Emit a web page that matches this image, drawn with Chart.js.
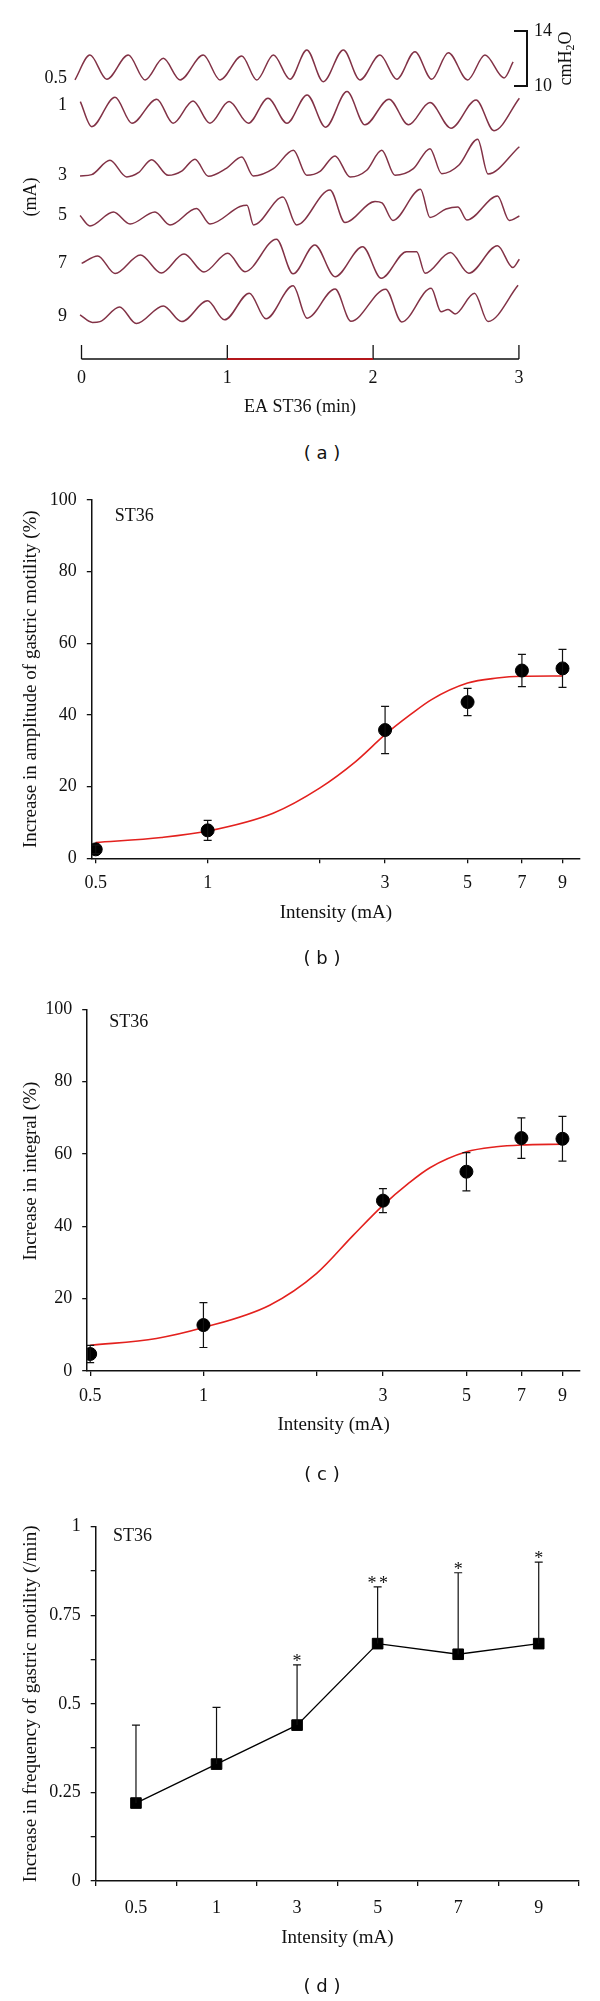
<!DOCTYPE html>
<html>
<head>
<meta charset="utf-8">
<script src="https://cdn.jsdelivr.net/npm/chart.js@4.4.1/dist/chart.umd.min.js"></script>
<style>
  html, body { margin: 0; padding: 0; background: #fff; }
  #page { position: relative; width: 600px; height: 2001px; overflow: hidden; }
  #page canvas { position: absolute; left: 0; }
  .tag { position: absolute; width: 80px; margin-left: -40px; height: 22px; line-height: 22px; margin-top: -11px;
         text-align: center; font: 18px "DejaVu Sans", sans-serif; color: #111; }
</style>
</head>
<body>
<div id="page">
  <canvas id="traces" width="600" height="440" style="top:0px"></canvas>
  <canvas id="amp" width="600" height="490" style="top:470px"></canvas>
  <canvas id="integ" width="600" height="490" style="top:980px"></canvas>
  <canvas id="freq" width="600" height="501" style="top:1500px"></canvas>
  <div class="tag" style="left:322px; top:453px">( a )</div>
  <div class="tag" style="left:322px; top:958px">( b )</div>
  <div class="tag" style="left:322px; top:1474px">( c )</div>
  <div class="tag" style="left:322px; top:1986px">( d )</div>
</div>
<script>
// ---- panel (a): pressure records, [time (min), cmH2O]
const laneNames = ['0.5', '1', '3', '5', '7', '9'];
const trace05 = [[-0.045,10.44],[0.058,12.25],[0.173,10.49],[0.321,12.25],[0.436,10.44],[0.561,12.01],[0.676,10.44],[0.835,12.25],[0.950,10.44],[1.099,12.18],[1.202,10.44],[1.316,12.25],[1.430,10.49],[1.545,12.62],[1.658,10.31],[1.796,12.62],[1.910,10.44],[2.047,12.25],[2.162,10.49],[2.287,12.49],[2.402,10.49],[2.516,12.42],[2.648,10.44],[2.767,12.25],[2.898,10.58],[2.960,11.75]];
const trace1 = [[-0.008,12.13],[0.070,10.31],[0.230,12.45],[0.346,10.56],[0.516,12.31],[0.628,10.56],[0.765,12.18],[0.881,10.56],[1.012,12.13],[1.145,10.56],[1.279,12.38],[1.409,10.56],[1.547,12.62],[1.674,10.27],[1.821,12.86],[1.944,10.44],[2.109,12.31],[2.243,10.44],[2.390,12.06],[2.534,10.20],[2.706,12.25],[2.829,10.02],[3.003,12.38]];
const trace3 = [[-0.010,10.29],[0.070,10.39],[0.195,11.43],[0.310,10.22],[0.390,10.53],[0.481,11.48],[0.595,10.34],[0.687,10.65],[0.778,11.51],[0.870,10.27],[0.996,10.87],[1.099,11.67],[1.178,10.29],[1.316,10.82],[1.453,12.16],[1.545,10.34],[1.636,10.63],[1.739,11.75],[1.842,10.22],[1.956,10.71],[2.059,12.16],[2.150,10.34],[2.276,10.82],[2.390,12.28],[2.470,10.46],[2.589,11.09],[2.717,12.96],[2.788,10.44],[3.003,12.42]];
const trace5 = [[-0.010,10.91],[0.058,10.15],[0.219,11.16],[0.333,10.29],[0.504,11.16],[0.607,10.22],[0.789,11.42],[0.881,10.29],[1.087,11.56],[1.135,11.66],[1.180,10.22],[1.382,12.25],[1.475,10.22],[1.704,12.76],[1.807,10.40],[2.013,11.93],[2.061,11.82],[2.136,10.55],[2.325,12.81],[2.390,10.76],[2.500,11.38],[2.582,11.53],[2.643,10.58],[2.853,12.33],[2.934,10.55],[3.003,10.87]];
const trace7 = [[0.001,11.21],[0.111,11.75],[0.230,10.47],[0.404,11.82],[0.547,10.51],[0.703,11.89],[0.840,10.58],[1.003,11.94],[1.121,10.60],[1.337,12.96],[1.451,10.45],[1.600,12.55],[1.739,10.24],[1.928,12.42],[2.056,10.12],[2.229,12.06],[2.299,12.06],[2.356,10.49],[2.530,11.99],[2.656,10.49],[2.853,12.49],[2.958,10.91],[3.003,11.51]];
const trace9 = [[-0.010,10.80],[0.075,10.25],[0.127,10.31],[0.261,11.38],[0.376,10.17],[0.561,11.45],[0.687,10.31],[0.864,11.82],[0.981,10.44],[1.151,12.38],[1.265,10.51],[1.451,12.91],[1.547,10.56],[1.739,12.68],[1.848,10.34],[2.086,12.67],[2.196,10.29],[2.398,12.74],[2.466,11.02],[2.514,11.20],[2.562,10.87],[2.695,12.38],[2.788,10.31],[2.994,12.95]];
const timeTicks = [0, 1, 2, 3];
const stimWindow = [1, 2];
const scaleBar = [10, 14];

// ---- panels (b) (c) (d)
const intensity = [0.5, 1, 3, 5, 7, 9];
const amplitudeMean = [2.5, 7.8, 35.8, 43.6, 52.4, 53.0];
const amplitudeSem = [1.2, 2.8, 6.6, 3.8, 4.5, 5.3];
const integralMean = [4.7, 12.7, 47.1, 55.1, 64.4, 64.2];
const integralSem = [2.4, 6.2, 3.3, 5.3, 5.6, 6.2];
const fitX = [0.5, 0.75, 1, 1.5, 2, 2.5, 3, 3.5, 4, 5, 6, 7, 9];
const amplitudeFit = [4.4, 5.8, 7.6, 12.6, 19.6, 27.0, 34.5, 40.0, 44.3, 48.9, 50.3, 50.8, 50.9];
const integralFit = [7.1, 9.0, 12.0, 18.2, 27.0, 37.5, 45.8, 51.8, 56.2, 60.6, 62.0, 62.5, 62.7];
const logTicks = [0.5, 1, 2, 3, 5, 7, 9];
const freqLabels = ['0.5', '1', '3', '5', '7', '9'];
const freqMean = [0.22, 0.33, 0.44, 0.67, 0.64, 0.67];
const freqSem = [0.22, 0.16, 0.17, 0.16, 0.23, 0.23];
const freqSig = ['', '', '*', '**', '*', '*'];

const SERIF = '"Liberation Serif", "Times New Roman", serif';
const INK = '#111';
const TRACE = '#823246';
const FIT = '#e3211e';
Chart.defaults.font.family = SERIF;
Chart.defaults.font.size = 18;
Chart.defaults.color = INK;
Chart.defaults.animation = false;

// vertical stacking of the six records (layout only)
const laneShift = [0, -3.27, -6.84, -10.33, -14.11, -17.45];
const laneLabelY = [78, 105, 175, 215, 263, 316];

const traceDecor = {
  id: 'traceDecor',
  afterDraw(chart) {
    const { ctx, scales: { x, y } } = chart;
    ctx.save();
    ctx.fillStyle = INK;
    ctx.strokeStyle = INK;
    ctx.font = '18px ' + SERIF;
    ctx.textBaseline = 'middle';

    ctx.textAlign = 'right';
    laneNames.forEach((n, i) => ctx.fillText(n, 67, laneLabelY[i]));

    ctx.save();
    ctx.translate(31, 197);
    ctx.rotate(-Math.PI / 2);
    ctx.textAlign = 'center';
    ctx.fillText('(mA)', 0, 0);
    ctx.restore();

    // calibration bar
    const bx = 527;
    const yLo = y.getPixelForValue(scaleBar[0]);
    const yHi = y.getPixelForValue(scaleBar[1]);
    ctx.lineWidth = 2;
    ctx.beginPath();
    ctx.moveTo(bx - 13, yHi); ctx.lineTo(bx, yHi); ctx.lineTo(bx, yLo); ctx.lineTo(bx - 13, yLo);
    ctx.stroke();
    ctx.textAlign = 'left';
    ctx.fillText(String(scaleBar[1]), 534, yHi);
    ctx.fillText(String(scaleBar[0]), 534, yLo);

    // cmH2O, rotated, with subscript
    ctx.save();
    ctx.translate(566, (yHi + yLo) / 2);
    ctx.rotate(-Math.PI / 2);
    const big = '18px ' + SERIF, small = '12px ' + SERIF;
    ctx.font = big; const w1 = ctx.measureText('cmH').width, w3 = ctx.measureText('O').width;
    ctx.font = small; const w2 = ctx.measureText('2').width;
    let cx = -(w1 + w2 + w3) / 2;
    ctx.font = big; ctx.fillText('cmH', cx, 0); cx += w1;
    ctx.font = small; ctx.fillText('2', cx, 5); cx += w2;
    ctx.font = big; ctx.fillText('O', cx, 0);
    ctx.restore();

    // time axis
    const base = 359, tickTop = 345;
    ctx.lineWidth = 1.3;
    ctx.beginPath();
    ctx.moveTo(x.getPixelForValue(timeTicks[0]), base);
    ctx.lineTo(x.getPixelForValue(timeTicks[timeTicks.length - 1]), base);
    timeTicks.forEach(t => {
      const px = x.getPixelForValue(t);
      ctx.moveTo(px, base); ctx.lineTo(px, tickTop);
    });
    ctx.stroke();
    ctx.strokeStyle = '#b3161b';
    ctx.lineWidth = 2;
    ctx.beginPath();
    ctx.moveTo(x.getPixelForValue(stimWindow[0]), base);
    ctx.lineTo(x.getPixelForValue(stimWindow[1]), base);
    ctx.stroke();
    ctx.font = '18px ' + SERIF;
    ctx.textAlign = 'center';
    timeTicks.forEach(t => ctx.fillText(String(t), x.getPixelForValue(t), 378));
    ctx.fillText('EA ST36 (min)', 300, 407);
    ctx.restore();
  }
};

new Chart(document.getElementById('traces'), {
  type: 'scatter',
  data: {
    datasets: [trace05, trace1, trace3, trace5, trace7, trace9].map((tr, i) => ({
      data: tr.map(([t, v]) => ({ x: t, y: v + laneShift[i] })),
      showLine: true,
      borderColor: TRACE,
      borderWidth: 1.5,
      pointRadius: 0,
      cubicInterpolationMode: 'monotone'
    }))
  },
  options: {
    responsive: false,
    devicePixelRatio: 1,
    layout: { padding: 0 },
    scales: {
      x: { type: 'linear', display: false, min: -0.559, max: 3.556 },
      y: { display: false, min: -15.75, max: 16.25 }
    },
    plugins: { legend: { display: false }, tooltip: { enabled: false } }
  },
  plugins: [traceDecor]
});

// error bars + significance marks on dataset 0
const errorBars = {
  id: 'errorBars',
  afterDatasetsDraw(chart, args, opts) {
    const ds = chart.data.datasets[0];
    const meta = chart.getDatasetMeta(0);
    const ys = chart.scales.y;
    const ctx = chart.ctx;
    ctx.save();
    ctx.strokeStyle = INK;
    ctx.fillStyle = INK;
    ctx.lineWidth = 1.2;
    meta.data.forEach((pt, i) => {
      const raw = ds.data[i];
      const v = typeof raw === 'object' ? raw.y : raw;
      const e = ds.errors[i];
      const top = ys.getPixelForValue(v + e);
      const bot = opts.upOnly ? pt.y : ys.getPixelForValue(v - e);
      ctx.beginPath();
      ctx.moveTo(pt.x, bot); ctx.lineTo(pt.x, top);
      ctx.moveTo(pt.x - 4, top); ctx.lineTo(pt.x + 4, top);
      if (!opts.upOnly) { ctx.moveTo(pt.x - 4, bot); ctx.lineTo(pt.x + 4, bot); }
      ctx.stroke();
      const mark = ds.marks ? ds.marks[i] : '';
      if (mark) {
        ctx.font = '18px ' + SERIF;
        ctx.textAlign = 'center';
        ctx.textBaseline = 'alphabetic';
        const n = mark.length;
        for (let k = 0; k < n; k++) {
          ctx.fillText('*', pt.x + (k - (n - 1) / 2) * 11.5, top + 2);
        }
      }
    });
    ctx.restore();
  }
};

const cornerNote = {
  id: 'cornerNote',
  afterDraw(chart, args, opts) {
    const { ctx, chartArea } = chart;
    ctx.save();
    ctx.fillStyle = INK;
    ctx.font = '18px ' + SERIF;
    ctx.textAlign = 'left';
    ctx.textBaseline = 'middle';
    ctx.fillText(opts.text, chartArea.left + opts.dx, chartArea.top + opts.dy);
    ctx.restore();
  }
};

function fixSize(w, h) {
  return scale => {
    if (w != null) scale.width = w;
    if (h != null) scale.height = h;
  };
}

const axisLook = {
  border: { display: true, color: INK, width: 1.5 },
  grid: { drawOnChartArea: false, drawTicks: true, tickLength: 5, color: INK, lineWidth: 1.3 }
};

function doseChart(id, mean, sem, fit, yTitle, box) {
  return new Chart(document.getElementById(id), {
    type: 'scatter',
    data: {
      datasets: [
        {
          data: intensity.map((x, i) => ({ x, y: mean[i] })),
          errors: sem,
          pointRadius: 6.5,
          pointBackgroundColor: '#000',
          pointBorderColor: '#000',
          showLine: false
        },
        {
          data: fitX.map((x, i) => ({ x, y: fit[i] })),
          showLine: true,
          borderColor: FIT,
          borderWidth: 1.6,
          pointRadius: 0,
          cubicInterpolationMode: 'monotone'
        }
      ]
    },
    options: {
      responsive: false,
      devicePixelRatio: 1,
      layout: { padding: { top: box.top, right: 20, left: 0, bottom: 0 } },
      scales: {
        x: {
          type: 'logarithmic',
          min: box.xMin, max: box.xMax,
          afterFit: fixSize(null, box.xH),
          afterBuildTicks: s => { s.ticks = logTicks.map(v => ({ value: v })); },
          ticks: { padding: 9, color: INK, autoSkip: false, maxRotation: 0, callback: v => (v === 2 ? '' : String(v)) },
          title: { display: true, text: 'Intensity (mA)', color: INK, font: { size: 19 }, padding: { top: 0, bottom: box.xTitlePad } },
          ...axisLook
        },
        y: {
          min: 0, max: 100,
          afterFit: fixSize(box.yW, null),
          ticks: { stepSize: 20, padding: 10, color: INK },
          title: { display: true, text: yTitle, color: INK, font: { size: 19 }, padding: { top: 20, bottom: 0 } },
          ...axisLook
        }
      },
      plugins: {
        legend: { display: false },
        tooltip: { enabled: false },
        errorBars: { upOnly: false },
        cornerNote: { text: 'ST36', dx: box.noteDx, dy: box.noteDy }
      }
    },
    plugins: [errorBars, cornerNote]
  });
}

doseChart('amp', amplitudeMean, amplitudeSem, amplitudeFit,
  'Increase in amplitude of gastric motility (%)',
  { top: 30, xH: 101.7, yW: 91.8, xMin: 0.488, xMax: 10.03, xTitlePad: 35.3, noteDx: 23, noteDy: 16 });

doseChart('integ', integralMean, integralSem, integralFit,
  '\u2002\u2002\u2002\u2002Increase in integral (%)',
  { top: 29.3, xH: 99, yW: 87.2, xMin: 0.491, xMax: 10.02, xTitlePad: 33.6, noteDx: 22, noteDy: 13.4 });

new Chart(document.getElementById('freq'), {
  type: 'line',
  data: {
    labels: freqLabels,
    datasets: [{
      data: freqMean,
      errors: freqSem,
      marks: freqSig,
      borderColor: '#000',
      borderWidth: 1.3,
      tension: 0,
      pointStyle: 'rect',
      pointRadius: 7.5,
      pointBackgroundColor: '#000',
      pointBorderColor: '#000',
      pointBorderWidth: 1
    }]
  },
  options: {
    responsive: false,
    devicePixelRatio: 1,
    layout: { padding: { top: 26.7, right: 21, left: 0, bottom: 0 } },
    scales: {
      x: {
        type: 'category',
        offset: true,
        afterFit: fixSize(null, 120),
        ticks: { padding: 11, color: INK, maxRotation: 0 },
        title: { display: true, text: 'Intensity (mA)', color: INK, font: { size: 19 }, padding: { top: 0, bottom: 51.6 } },
        border: axisLook.border,
        grid: Object.assign({}, axisLook.grid, { offset: true })
      },
      y: {
        min: 0, max: 1,
        afterFit: fixSize(95.7, null),
        ticks: {
          stepSize: 0.125, padding: 10, color: INK, autoSkip: false,
          callback: v => (Math.abs(v * 4 - Math.round(v * 4)) < 1e-6 ? String(+v.toFixed(2)) : '')
        },
        title: { display: true, text: 'Increase in frequency of gastric motility (/min)', color: INK, font: { size: 19 }, padding: { top: 20, bottom: 0 } },
        ...axisLook
      }
    },
    plugins: {
      legend: { display: false },
      tooltip: { enabled: false },
      errorBars: { upOnly: true },
      cornerNote: { text: 'ST36', dx: 17.3, dy: 10 }
    }
  },
  plugins: [errorBars, cornerNote]
});
</script>
</body>
</html>
